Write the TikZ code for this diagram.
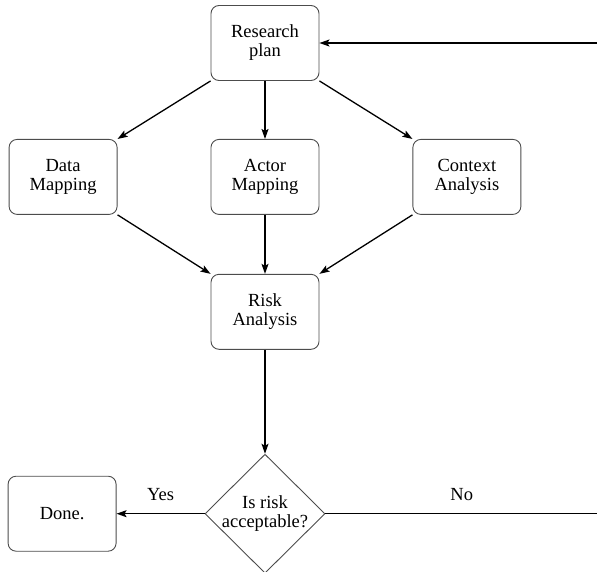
\documentclass[tikz,border=0pt]{standalone}
\usepackage{fontspec}
\setmainfont{Liberation Serif}
\usetikzlibrary{positioning,shapes.geometric,arrows.meta}

\begin{document}
\begin{tikzpicture}[x=1pt, y=1pt, node distance=58pt and 93pt,
  >={Stealth[length=10pt,width=7pt,inset=2pt]},
  box/.style={rectangle, rounded corners=8pt, draw=black!70, line width=0.9pt, minimum width=108pt, minimum height=75pt, align=center, font=\fontsize{18.5}{19}\selectfont},
  decision/.style={diamond, draw=black!70, line width=0.9pt, minimum width=120pt, minimum height=119pt, inner sep=-2pt, align=center, font=\fontsize{18.5}{19}\selectfont},
  link/.style={->, line width=1.3pt},
  lbl/.style={inner sep=0pt, font=\fontsize{18.5}{19}\selectfont}]
\useasboundingbox (0,0) rectangle (597,-571);

\node[box] (plan) at (265,-43) {Research\\plan};
\node[box, below=58pt of plan] (actor) {Actor\\Mapping};
\node[box, left=93pt of actor] (data) {Data\\Mapping};
\node[box, right=93pt of actor] (context) {Context\\Analysis};
\node[box, below=59pt of actor] (risk) {Risk\\Analysis};
\node[decision, below=104pt of risk] (accept) {Is risk\\acceptable?};
\node[box, left=88pt of accept] (done) {Done.};

% loop back to the plan
\coordinate (back) at (598,-43);
\coordinate (turn) at (accept.east -| back);

\draw[link] (plan.south west) -- (data.north east);
\draw[link] (plan) -- (actor);
\draw[link] (plan.south east) -- (context.north west);
\draw[link] (data.south east) -- (risk.north west);
\draw[link] (actor) -- (risk);
\draw[link] (context.south west) -- (risk.north east);
\draw[link] (risk) -- (accept);
\draw[link] (accept.west) -- node[lbl, above=12pt] {Yes} (done);
\draw[link] (accept.east) -- node[lbl, above=12pt] {No} (turn) -- (back) -- (plan);
\end{tikzpicture}
\end{document}
